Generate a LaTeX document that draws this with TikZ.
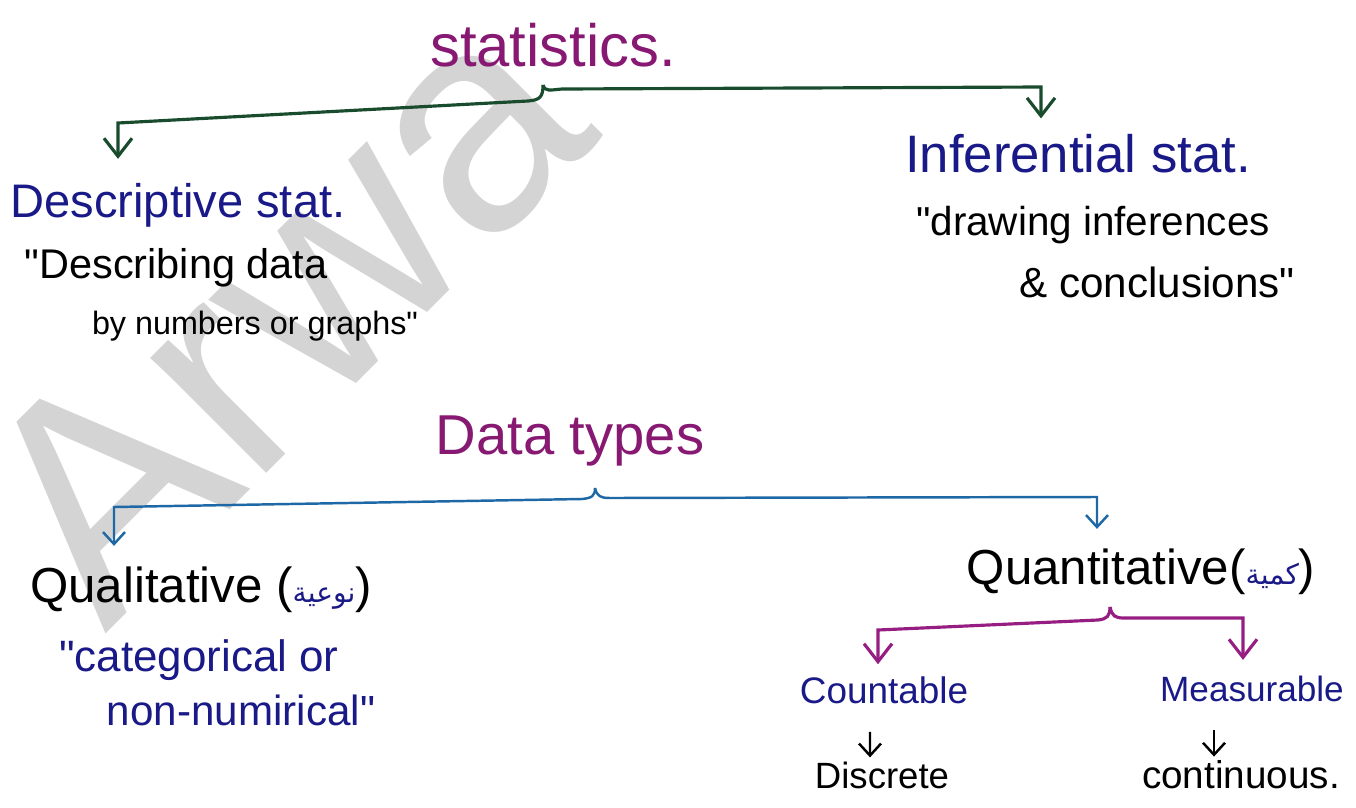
\documentclass[tikz,border=0pt]{standalone}
\usepackage{fontspec}
\setmainfont{Liberation Sans}
\newfontfamily\arabicfont[Script=Arabic]{DejaVu Sans}
\TeXXeTstate=1
\usetikzlibrary{positioning,arrows.meta}
\definecolor{titlepurple}{RGB}{135,25,115}
\definecolor{branchgreen}{RGB}{25,75,45}
\definecolor{branchteal}{RGB}{30,105,165}
\definecolor{branchmagenta}{RGB}{150,30,130}
\definecolor{inkblue}{RGB}{25,25,135}
\definecolor{markgray}{RGB}{212,212,212}
\newcommand{\arabictag}[1]{{\color{inkblue}\arabicfont\fontsize{8pt}{9pt}\selectfont\beginR #1\endR}}
\newcommand{\qq}{\textquotedbl}

\begin{document}
\begin{tikzpicture}[
  fs/.style={font=\fontsize{#1}{#1}\selectfont},
  title/.style={text=titlepurple, inner sep=1pt},
  branch/.style={text=inkblue, inner sep=1pt},
  note/.style={text=black, inner sep=1pt},
  arr/.style={-{Straight Barb[length=1.8mm,width=2.8mm]}, line width=0.9pt},
  thinarr/.style={-{Straight Barb[length=1.2mm,width=2.2mm]}, line width=0.7pt},
]
\useasboundingbox (0,0) rectangle (13.56,8.07);

%% Watermark
\node[text=markgray, rotate=45, anchor=base west, inner sep=0pt,
      font=\fontsize{88pt}{88pt}\selectfont] (mark) at (1.05,1.72) {Arwa};

%% Nodes
\node[title, fs=17pt]   (stat)    at (5.53,7.62)  {statistics.};
\node[branch, fs=13.4pt] (desc)   at (1.78,6.02)  {Descriptive stat.};
\node[note, fs=11.8pt]  (descq1)  at (1.76,5.39)  {\qq Describing data};
\node[note, fs=9.2pt]   (descq2)  at (2.55,4.81)  {by numbers or graphs\qq};
\node[branch, fs=15pt]  (infer)   at (10.78,6.53) {Inferential stat.};
\node[note, fs=11.5pt]  (inferq1) at (10.93,5.82) {\qq drawing inferences};
\node[note, fs=12pt]    (inferq2) at (11.57,5.25) {\& conclusions\qq};

\node[title, fs=16pt]   (types)   at (5.70,3.66)  {Data types};
\node[note, fs=14pt]    (qual)    at (2.01,2.17)  {Qualitative (\arabictag{نوعية})};
\node[branch, fs=12.5pt] (qualq1) at (1.99,1.47)  {\qq categorical or};
\node[branch, fs=12pt]  (qualq2)  at (2.41,0.97)  {non-numirical\qq};
\node[note, fs=14pt]    (quant)   at (11.41,2.35) {Quantitative(\arabictag{كمية})};
\node[branch, fs=10.5pt] (count)  at (8.84,1.17)  {Countable};
\node[branch, fs=10pt]  (meas)    at (12.52,1.18) {Measurable};
\node[note, fs=10.4pt]  (disc)    at (8.82,0.32)  {Discrete};
\node[note, fs=11pt]    (cont)    at (12.41,0.32) {continuous.};

%% Connectors
% statistics -> descriptive / inferential
\coordinate (statcusp) at (5.43,7.22);
\coordinate (statL)    at (1.18,6.84);
\coordinate (statR)    at (10.41,7.20);
\draw[arr, branchgreen, shorten >=2mm] (statcusp) .. controls (5.43,7.10) and (5.40,7.07) .. (5.28,7.06)
  -- (statL) -- (statL |- desc.north);
\draw[arr, branchgreen, shorten >=1.2mm] (statcusp) .. controls (5.45,7.15) and (5.50,7.17) .. (5.62,7.18)
  -- (statR) -- (statR |- infer.north);

% data types -> qualitative / quantitative
\coordinate (typecusp) at (5.95,3.19);
\coordinate (typeL)    at (1.14,3.00);
\coordinate (typeR)    at (10.97,3.10);
\draw[thinarr, branchteal, shorten >=1.7mm] (typecusp) .. controls (5.95,3.11) and (5.92,3.09) .. (5.82,3.08)
  -- (typeL) -- (typeL |- qual.north);
\draw[thinarr, branchteal, shorten >=1.6mm] (typecusp) .. controls (5.97,3.11) and (6.00,3.09) .. (6.10,3.09)
  -- (typeR) -- (typeR |- quant.north);

% quantitative -> countable / measurable
\coordinate (quantcusp) at (11.10,2.00);
\coordinate (quantL)    at (8.78,1.77);
\coordinate (quantR)    at (12.43,1.89);
\draw[arr, branchmagenta, shorten >=0.8mm] (quantcusp) .. controls (11.10,1.91) and (11.07,1.88) .. (10.98,1.87)
  -- (quantL) -- (quantL |- count.north);
\draw[arr, branchmagenta, shorten >=1.2mm] (quantcusp) .. controls (11.12,1.91) and (11.15,1.89) .. (11.24,1.89)
  -- (quantR) -- (quantR |- meas.north);

% countable -> discrete, measurable -> continuous
\draw[thinarr, black, shorten <=2.4mm] ([xshift=-1.4mm]count.south) -- ([xshift=-1.2mm]disc.north);
\draw[thinarr, black, shorten <=2.4mm] ([xshift=-3.8mm]meas.south) -- ([xshift=-2.7mm]cont.north);

\end{tikzpicture}
\end{document}
